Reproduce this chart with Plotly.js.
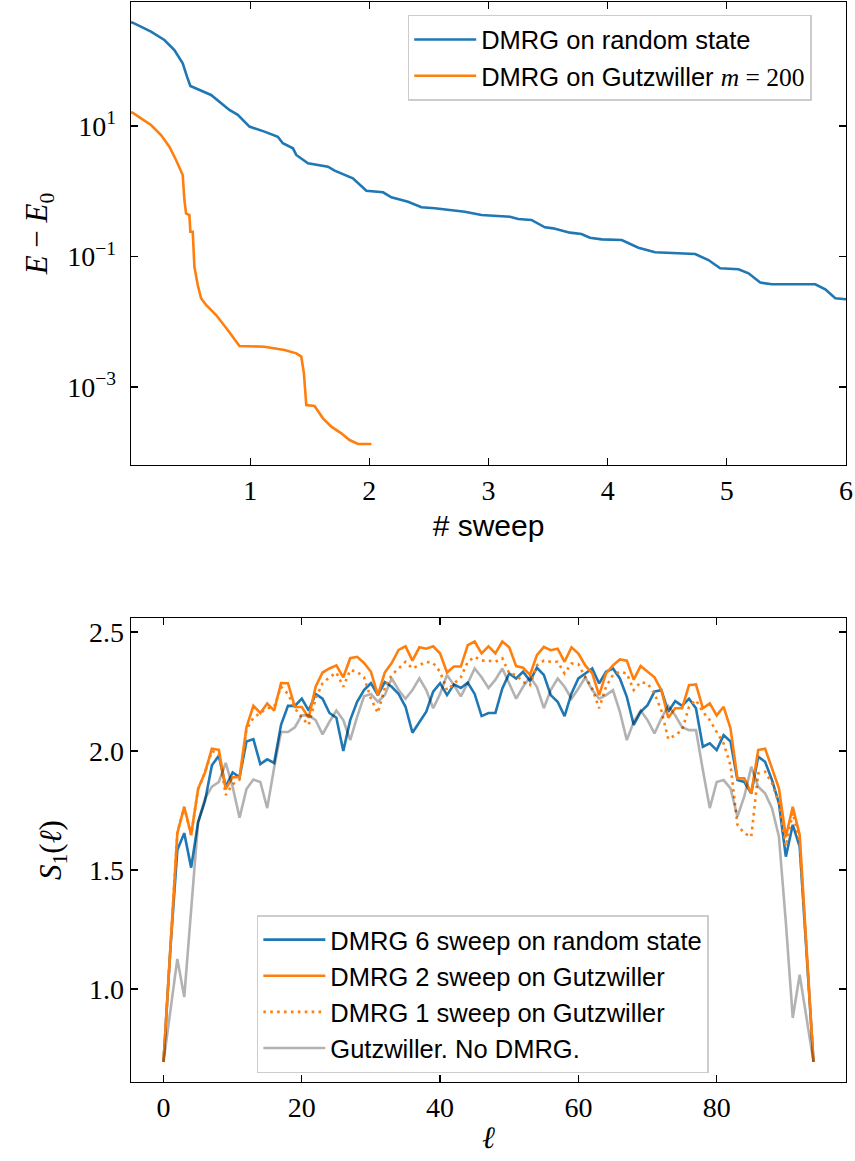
<!DOCTYPE html>
<html>
<head>
<meta charset="utf-8">
<script src="https://cdn.plot.ly/plotly-3.0.1.min.js"></script>
<style>html,body{margin:0;padding:0;background:#fff;}#chart{width:855px;height:1161px;}</style>
</head>
<body>
<div id="chart"></div>
<script>
// ---- Top panel: energy error vs sweep ----
const sweepRandom = [0.0, 0.014, 0.168, 0.28, 0.364, 0.434, 0.47, 0.498, 0.672, 0.826, 0.896, 0.994, 1.12, 1.232, 1.274, 1.359, 1.387, 1.485, 1.653, 1.709, 1.862, 1.975, 2.115, 2.185, 2.325, 2.437, 2.549, 2.801, 2.941, 3.18, 3.25, 3.36, 3.473, 3.543, 3.683, 3.78, 3.851, 3.95, 4.118, 4.258, 4.398, 4.734, 4.846, 4.944, 5.098, 5.182, 5.28, 5.378, 5.742, 5.826, 5.91, 6.0];
const errRandom = [389, 383, 279, 208, 146, 91, 57, 41, 29.9, 17.6, 14.8, 9.8, 8.2, 6.85, 5.43, 4.55, 3.6, 2.68, 2.38, 2.07, 1.58, 1.02, 0.964, 0.807, 0.692, 0.568, 0.548, 0.486, 0.433, 0.407, 0.376, 0.363, 0.28, 0.27, 0.232, 0.221, 0.194, 0.183, 0.179, 0.136, 0.116, 0.109, 0.0883, 0.0661, 0.0637, 0.0553, 0.0398, 0.0375, 0.0375, 0.0314, 0.0229, 0.0221];
const sweepGutz = [0.0, 0.014, 0.084, 0.168, 0.252, 0.322, 0.378, 0.434, 0.448, 0.462, 0.49, 0.498, 0.518, 0.532, 0.56, 0.588, 0.63, 0.714, 0.812, 0.91, 1.12, 1.288, 1.387, 1.429, 1.451, 1.471, 1.54, 1.611, 1.681, 1.765, 1.834, 1.905, 2.017];
const errGutz = [16.2, 16.0, 13.1, 10.35, 7.28, 4.82, 3.01, 1.77, 0.735, 0.459, 0.433, 0.24, 0.24, 0.0698, 0.0366, 0.0229, 0.0181, 0.01268, 0.00748, 0.00425, 0.00415, 0.00369, 0.00328, 0.00292, 0.00162, 0.00053, 0.000513, 0.000331, 0.000247, 0.000195, 0.000154, 0.000134, 0.000134];
const topNames = ['DMRG on random state', 'DMRG on Gutzwiller <span style="font-family:Liberation Serif"><i>m</i> = 200</span>'];
const topTickVals = [10, 0.1, 0.001];
const topTickText = ['10<sup>1</sup>', '10<sup>−1</sup>', '10<sup>−3</sup>'];

// ---- Bottom panel: entanglement entropy vs bond ----
const sites = Array.from({length: 95}, (_, i) => i);
const s6Random = [0.693,1.17,1.584,1.655,1.51,1.70,1.79,1.94,1.98,1.85,1.91,1.89,2.04,2.05,1.945,1.965,1.95,2.11,2.19,2.19,2.22,2.17,2.24,2.22,2.16,2.14,2.00,2.13,2.207,2.256,2.285,2.235,2.29,2.27,2.24,2.186,2.077,2.123,2.165,2.25,2.285,2.235,2.28,2.265,2.287,2.24,2.147,2.16,2.16,2.263,2.326,2.305,2.333,2.295,2.35,2.32,2.235,2.207,2.147,2.242,2.305,2.326,2.347,2.284,2.333,2.347,2.305,2.228,2.11,2.165,2.193,2.25,2.256,2.165,2.21,2.19,2.22,2.18,2.018,2.032,2.004,2.067,2.04,1.878,1.87,1.822,1.976,1.955,1.878,1.78,1.556,1.69,1.598,1.15,0.693];
const s2Gutz = [0.693,1.17,1.655,1.765,1.647,1.84,1.91,2.01,2.005,1.84,1.89,1.89,2.10,2.19,2.16,2.20,2.17,2.286,2.285,2.185,2.185,2.14,2.27,2.33,2.347,2.36,2.31,2.39,2.396,2.37,2.333,2.235,2.33,2.37,2.425,2.44,2.38,2.436,2.43,2.44,2.41,2.33,2.355,2.355,2.445,2.46,2.41,2.44,2.41,2.46,2.436,2.357,2.35,2.32,2.403,2.438,2.424,2.43,2.375,2.436,2.41,2.36,2.326,2.235,2.326,2.36,2.385,2.38,2.30,2.357,2.333,2.31,2.256,2.14,2.18,2.18,2.277,2.28,2.18,2.20,2.15,2.186,2.095,1.885,1.885,1.822,2.004,2.01,1.927,1.843,1.64,1.766,1.647,1.17,0.693];
const s1Gutz = [0.693,1.17,1.655,1.765,1.647,1.84,1.91,2.00,1.99,1.815,1.86,1.88,2.09,2.14,2.16,2.18,2.185,2.27,2.24,2.18,2.14,2.11,2.22,2.285,2.31,2.33,2.27,2.34,2.333,2.31,2.22,2.16,2.265,2.32,2.347,2.375,2.347,2.36,2.375,2.37,2.333,2.256,2.285,2.31,2.375,2.396,2.38,2.38,2.375,2.39,2.326,2.32,2.29,2.277,2.36,2.38,2.375,2.375,2.326,2.368,2.365,2.31,2.263,2.18,2.27,2.32,2.333,2.326,2.256,2.29,2.284,2.242,2.17,2.05,2.067,2.088,2.186,2.214,2.165,2.13,2.08,2.032,1.94,1.69,1.654,1.64,1.906,1.913,1.864,1.78,1.60,1.74,1.62,1.16,0.693];
const s0Gutz = [0.693,0.91,1.126,0.966,1.33,1.70,1.80,1.85,1.87,1.95,1.85,1.72,1.84,1.88,1.87,1.76,1.93,2.08,2.08,2.10,2.15,2.15,2.13,2.07,2.123,2.17,2.13,2.046,2.144,2.23,2.24,2.207,2.235,2.306,2.256,2.22,2.256,2.306,2.256,2.18,2.24,2.32,2.277,2.23,2.285,2.347,2.31,2.265,2.30,2.347,2.284,2.22,2.27,2.31,2.27,2.18,2.256,2.305,2.27,2.22,2.263,2.31,2.256,2.22,2.235,2.256,2.165,2.046,2.123,2.17,2.13,2.074,2.137,2.19,2.15,2.10,2.088,2.088,1.92,1.76,1.87,1.878,1.843,1.724,1.81,1.934,1.85,1.822,1.76,1.64,1.28,0.878,1.06,0.88,0.693];
const bottomNames = ['DMRG 6 sweep on random state', 'DMRG 2 sweep on Gutzwiller', 'DMRG 1 sweep on Gutzwiller', 'Gutzwiller. No DMRG.'];

const BLUE = '#1f77b4', ORANGE = '#ff7f0e', GRAY = 'rgba(0,0,0,0.3)';
const LW = 2.6;
const SERIF = 'Liberation Serif, DejaVu Serif, serif';
const SANS = 'Liberation Sans, Arial, sans-serif';

const traces = [
  {x: sweepRandom, y: errRandom, name: topNames[0], mode: 'lines', line: {color: BLUE, width: LW}, xaxis: 'x', yaxis: 'y', legend: 'legend'},
  {x: sweepGutz, y: errGutz, name: topNames[1], mode: 'lines', line: {color: ORANGE, width: LW}, xaxis: 'x', yaxis: 'y', legend: 'legend'},
  {x: sites, y: s6Random, name: bottomNames[0], mode: 'lines', line: {color: BLUE, width: LW}, xaxis: 'x2', yaxis: 'y2', legend: 'legend2'},
  {x: sites, y: s2Gutz, name: bottomNames[1], mode: 'lines', line: {color: ORANGE, width: LW}, xaxis: 'x2', yaxis: 'y2', legend: 'legend2'},
  {x: sites, y: s1Gutz, name: bottomNames[2], mode: 'lines', line: {color: ORANGE, width: LW, dash: '2.6px,4.3px'}, xaxis: 'x2', yaxis: 'y2', legend: 'legend2'},
  {x: sites, y: s0Gutz, name: bottomNames[3], mode: 'lines', line: {color: GRAY, width: LW}, xaxis: 'x2', yaxis: 'y2', legend: 'legend2'}
];

const axisCommon = {
  showline: true, linecolor: '#000', linewidth: 1.3, mirror: 'allticks',
  ticks: 'inside', ticklen: 7, tickwidth: 1.3, tickcolor: '#000',
  showgrid: false, zeroline: false,
  tickfont: {family: SERIF, size: 28, color: '#000'}
};

const layout = {
  width: 855, height: 1161,
  margin: {l: 131, r: 9, t: 2, b: 79},
  paper_bgcolor: '#fff', plot_bgcolor: '#fff',
  showlegend: true,
  xaxis: Object.assign({}, axisCommon, {
    domain: [0, 1], anchor: 'y', range: [0, 6],
    tickvals: [1, 2, 3, 4, 5, 6],
    title: {text: '# sweep', font: {family: SANS, size: 30, color: '#000'}, standoff: 10}
  }),
  yaxis: Object.assign({}, axisCommon, {
    domain: [0.5713, 1], anchor: 'x', type: 'log', range: [-4.195, 2.90],
    tickvals: topTickVals, ticktext: topTickText, ticklabelstandoff: 8,
    title: {text: '<i>E</i> − <i>E</i><sub>0</sub>', font: {family: SERIF, size: 31, color: '#000'}, standoff: 10}
  }),
  xaxis2: Object.assign({}, axisCommon, {
    domain: [0, 1], anchor: 'y2', range: [-4.7, 98.7],
    tickvals: [0, 20, 40, 60, 80],
    title: {text: '<i>ℓ</i>', font: {family: SERIF, size: 31, color: '#000'}, standoff: 4}
  }),
  yaxis2: Object.assign({}, axisCommon, {
    domain: [0, 0.4296], anchor: 'x2', range: [0.609, 2.559],
    tickvals: [1.0, 1.5, 2.0, 2.5], ticktext: ['1.0', '1.5', '2.0', '2.5'],
    title: {text: '<i>S</i><sub>1</sub>(<i>ℓ</i>)', font: {family: SERIF, size: 31, color: '#000'}, standoff: 18}
  }),
  legend: {
    x: 0.387, y: 0.988, xanchor: 'left', yanchor: 'top',
    bgcolor: 'rgba(255,255,255,0.8)', bordercolor: '#cccccc', borderwidth: 1.5,
    font: {family: SANS, size: 25.5, color: '#000'}, tracegroupgap: 0, itemwidth: 62
  },
  legend2: {
    x: 0.176, y: 0.1546, xanchor: 'left', yanchor: 'top',
    bgcolor: 'rgba(255,255,255,0.8)', bordercolor: '#cccccc', borderwidth: 1.5,
    font: {family: SANS, size: 25.5, color: '#000'}, tracegroupgap: 0, itemwidth: 62
  }
};

Plotly.newPlot('chart', traces, layout, {displayModeBar: false, staticPlot: true});
</script>
</body>
</html>
